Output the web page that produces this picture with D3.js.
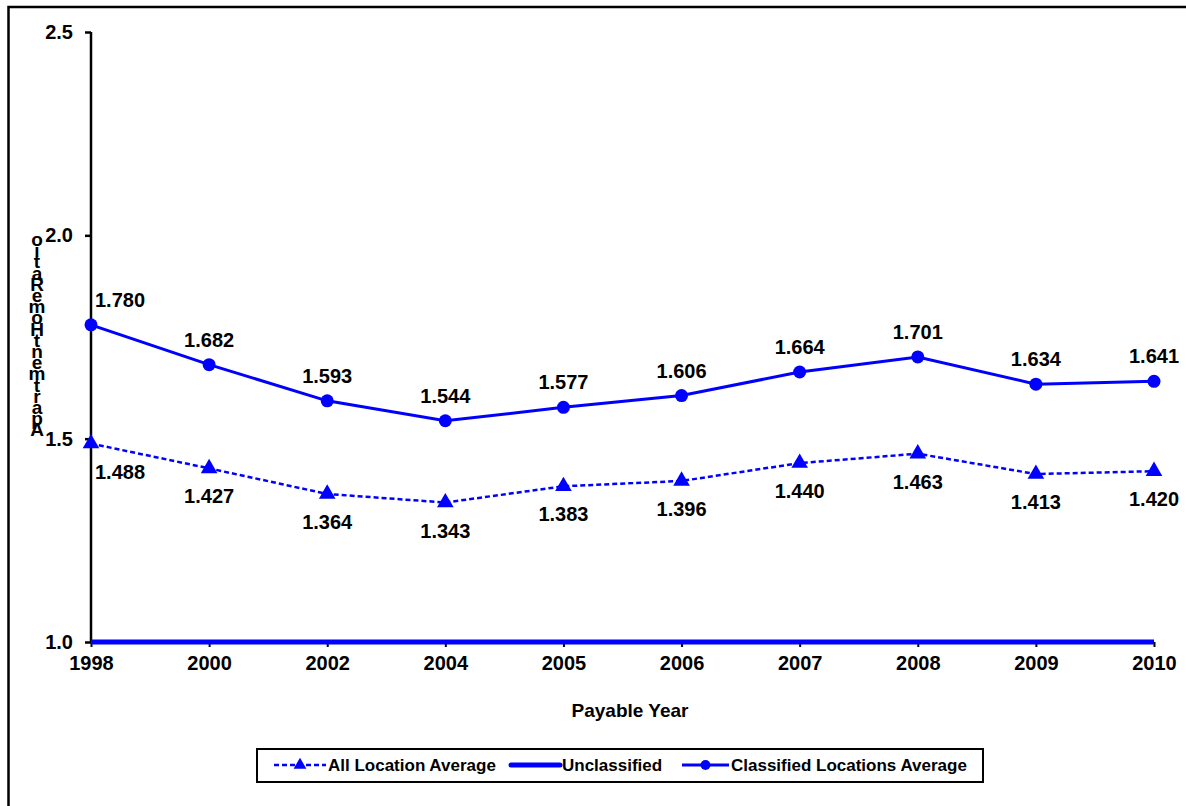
<!DOCTYPE html>
<html>
<head>
<meta charset="utf-8">
<script src="https://cdn.jsdelivr.net/npm/d3@7"></script>
<style>
  body { margin: 0; background: #fff; }
  text { font-family: Arial, "Liberation Sans", sans-serif; font-weight: bold; fill: #000; }
</style>
</head>
<body>
<svg id="chart" width="1186" height="806"></svg>
<script>
const years = ["1998", "2000", "2002", "2004", "2005", "2006", "2007", "2008", "2009", "2010"];
const allLocation = [1.488, 1.427, 1.364, 1.343, 1.383, 1.396, 1.440, 1.463, 1.413, 1.420];
const unclassified = [1.0, 1.0, 1.0, 1.0, 1.0, 1.0, 1.0, 1.0, 1.0, 1.0];
const classified = [1.780, 1.682, 1.593, 1.544, 1.577, 1.606, 1.664, 1.701, 1.634, 1.641];
const yTicks = [1.0, 1.5, 2.0, 2.5];
const yTitle = "Apartment Home Ratio";
const xTitle = "Payable Year";
const legendNames = ["All Location Average", "Unclassified", "Classified Locations Average"];

const svg = d3.select("#chart");
const blue = "#0000ff";

// outer frame
svg.append("rect")
    .attr("x", 8.5).attr("y", 7)
    .attr("width", 1200).attr("height", 820)
    .attr("fill", "none").attr("stroke", "#000").attr("stroke-width", 2.5);

const x = d3.scalePoint().domain(years).range([91, 1154]);
const y = d3.scaleLinear().domain([1.0, 2.5]).range([642, 32]);

// axes
const yAxis = d3.axisLeft(y).tickValues(yTicks).tickFormat(d3.format(".1f")).tickSize(6).tickPadding(12);
const gy = svg.append("g").attr("transform", "translate(91,0)").call(yAxis);
gy.select(".domain").attr("stroke-width", 2.5).attr("d", "M0," + y(2.5) + "V" + y(1.0));
gy.selectAll(".tick line").attr("stroke-width", 2.5);
gy.selectAll(".tick text").style("font-size", "20px");

const xAxis = d3.axisBottom(x).tickSize(5).tickPadding(9);
const gx = svg.append("g").attr("transform", "translate(0,642)").call(xAxis);
gx.select(".domain").remove();
gx.selectAll(".tick line").attr("stroke-width", 2);
gx.selectAll(".tick text").style("font-size", "20px");

svg.append("text")
    .attr("x", 630).attr("y", 717)
    .attr("text-anchor", "middle")
    .style("font-size", "19px")
    .text(xTitle);

// stacked vertical title (characters reversed, as rendered)
const chars = yTitle.replace(/ /g, "").split("").reverse();
svg.append("g").selectAll("text")
    .data(chars)
    .enter()
    .append("text")
    .attr("x", 37)
    .attr("y", (d, i) => 246 + i * 11.2)
    .attr("text-anchor", "middle")
    .style("font-size", "19px")
    .text(d => d);

const line = d3.line().x((d, i) => x(years[i])).y(d => y(d));

// unclassified
svg.append("path")
    .datum(unclassified)
    .attr("d", line)
    .attr("fill", "none").attr("stroke", blue).attr("stroke-width", 5);

// all location average
svg.append("path")
    .datum(allLocation)
    .attr("d", line)
    .attr("fill", "none").attr("stroke", blue).attr("stroke-width", 2.5)
    .attr("stroke-dasharray", "5,3");

const tri = d3.symbol().type(d3.symbolTriangle).size(120);
svg.append("g").selectAll("path")
    .data(allLocation)
    .enter()
    .append("path")
    .attr("d", tri)
    .attr("transform", (d, i) => `translate(${x(years[i])},${y(d)})`)
    .attr("fill", blue);

svg.append("g").selectAll("text")
    .data(allLocation)
    .enter()
    .append("text")
    .attr("x", (d, i) => x(years[i]) + (i === 0 ? 29 : 0))
    .attr("y", d => y(d) + 35)
    .attr("text-anchor", "middle")
    .style("font-size", "20px")
    .text(d => d.toFixed(3));

// classified
svg.append("path")
    .datum(classified)
    .attr("d", line)
    .attr("fill", "none").attr("stroke", blue).attr("stroke-width", 3);

svg.append("g").selectAll("circle")
    .data(classified)
    .enter()
    .append("circle")
    .attr("cx", (d, i) => x(years[i]))
    .attr("cy", d => y(d))
    .attr("r", 6.5)
    .attr("fill", blue);

svg.append("g").selectAll("text")
    .data(classified)
    .enter()
    .append("text")
    .attr("x", (d, i) => x(years[i]) + (i === 0 ? 29 : 0))
    .attr("y", d => y(d) - 18)
    .attr("text-anchor", "middle")
    .style("font-size", "20px")
    .text(d => d.toFixed(3));

// legend
const lg = svg.append("g");
lg.append("rect")
    .attr("x", 257).attr("y", 749)
    .attr("width", 726).attr("height", 33)
    .attr("fill", "#fff").attr("stroke", "#000").attr("stroke-width", 2);

const items = [
    {x0: 274, x1: 326, tx: 328},
    {x0: 511, x1: 560, tx: 562},
    {x0: 682, x1: 729, tx: 731}
];
const ly = 765;
lg.append("line").attr("x1", items[0].x0).attr("x2", items[0].x1).attr("y1", ly).attr("y2", ly)
    .attr("stroke", blue).attr("stroke-width", 2.5).attr("stroke-dasharray", "5,3");
lg.append("path").attr("d", d3.symbol().type(d3.symbolTriangle).size(70))
    .attr("transform", `translate(${(items[0].x0 + items[0].x1) / 2},${ly})`).attr("fill", blue);
lg.append("line").attr("x1", items[1].x0).attr("x2", items[1].x1).attr("y1", ly).attr("y2", ly)
    .attr("stroke", blue).attr("stroke-width", 5).attr("stroke-linecap", "round");
lg.append("line").attr("x1", items[2].x0).attr("x2", items[2].x1).attr("y1", ly).attr("y2", ly)
    .attr("stroke", blue).attr("stroke-width", 3);
lg.append("circle").attr("cx", (items[2].x0 + items[2].x1) / 2).attr("cy", ly).attr("r", 5).attr("fill", blue);

lg.selectAll("text.lab")
    .data(legendNames)
    .enter()
    .append("text")
    .attr("class", "lab")
    .attr("x", (d, i) => items[i].tx)
    .attr("y", ly + 6)
    .style("font-size", "17px")
    .text(d => d);
</script>
</body>
</html>
